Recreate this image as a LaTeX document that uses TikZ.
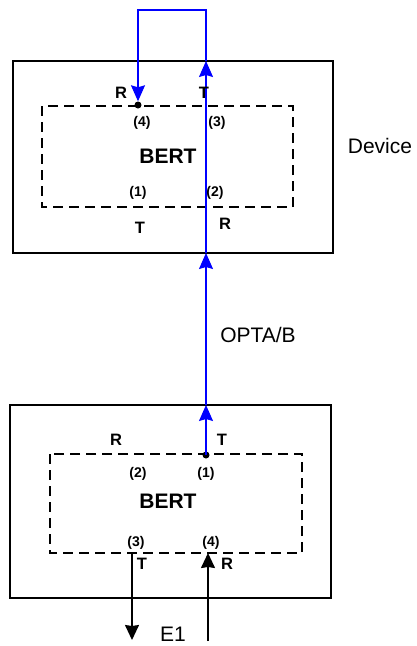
\documentclass[tikz,border=0pt]{standalone}
\usepackage{fontspec}
\setmainfont{Liberation Sans}
\usetikzlibrary{arrows.meta}
\begin{document}
\begin{tikzpicture}[x=1pt,y=-1pt,
  outerbox/.style={draw=black,line width=1.3pt},
  innerbox/.style={draw=black,line width=1.3pt,dash pattern=on 10pt off 6pt},
  lbl/.style={inner sep=0pt,text height=11.5pt,text depth=0pt,font=\fontsize{16.5}{17}\selectfont\bfseries},
  num/.style={inner sep=0pt,text height=10pt,text depth=0pt,font=\fontsize{14}{15}\selectfont\bfseries},
  big/.style={inner sep=0pt,text height=15pt,text depth=0pt,font=\fontsize{21}{22}\selectfont},
  bigb/.style={big,font=\fontsize{21}{22}\selectfont\bfseries},
  blueline/.style={draw=blue,line width=1.4pt},
  bluearrow/.style={blueline,-{Stealth[length=16pt,width=14pt,inset=2pt]}},
  blackarrow/.style={draw=black,line width=1.4pt,-{Stealth[length=15pt,width=14pt,inset=1pt]}},
  dot/.style={circle,fill=black,inner sep=0pt,minimum size=7pt}
]
\path[use as bounding box] (0,0) rectangle (416,646);

% top device
\draw[outerbox] (13,61) rectangle (333,253);
\draw[innerbox] (42,106) rectangle (293,207);
% lower device
\draw[outerbox] (10,405) rectangle (331,598);
\draw[innerbox] (50,454) rectangle (302,553);

% coordinates
\coordinate (loopL) at (138,10);
\coordinate (loopR) at (206,10);
\coordinate (topIn) at (206,61);
\coordinate (topOut) at (206,253);
\coordinate (lowIn) at (206,405);
\coordinate (lowT) at (132,553);
\coordinate (lowTend) at (132,640);
\coordinate (lowR) at (208,553);
\coordinate (lowRstart) at (208,641);

\node[dot] (d4) at (138,105) {};
\node[dot] (d1) at (206,455) {};

% blue path
\draw[bluearrow] (d1.center) -- (lowIn);
\draw[bluearrow] (lowIn) -- (topOut);
\draw[bluearrow] (topOut) -- (topIn);
\draw[bluearrow] (topIn) -- (loopR) -- (loopL) -- (d4.north);

% black E1 arrows
\draw[blackarrow] (lowT) -- (lowTend);
\draw[blackarrow] (lowRstart) -- (lowR);

% top device labels
\node[lbl] (tR1) at (121,93) {R};
\node[lbl] (tT1) at (204,93) {T};
\node[num] (t4) at (142,121) {(4)};
\node[num] (t3) at (217,121) {(3)};
\node[bigb] (tbert) at (168,156) {BERT};
\node[num] (t1) at (138,191) {(1)};
\node[num] (t2) at (215,191) {(2)};
\node[lbl] (tT2) at (140,228) {T};
\node[lbl] (tR2) at (225,224) {R};
\node[big] (dev) at (380,146) {Device};

\node[big] (opta) at (258,335) {OPTA/B};

% lower device labels
\node[lbl] (lR1) at (116,440) {R};
\node[lbl] (lT1) at (222,440) {T};
\node[num] (l2) at (138,472) {(2)};
\node[num] (l1) at (206,472) {(1)};
\node[bigb] (lbert) at (168,501) {BERT};
\node[num] (l3) at (136,541) {(3)};
\node[num] (l4) at (211,541) {(4)};
\node[lbl] (lT2) at (142,564) {T};
\node[lbl] (lR2) at (227,564) {R};
\node[big] (e1) at (173,634) {E1};
\end{tikzpicture}
\end{document}
